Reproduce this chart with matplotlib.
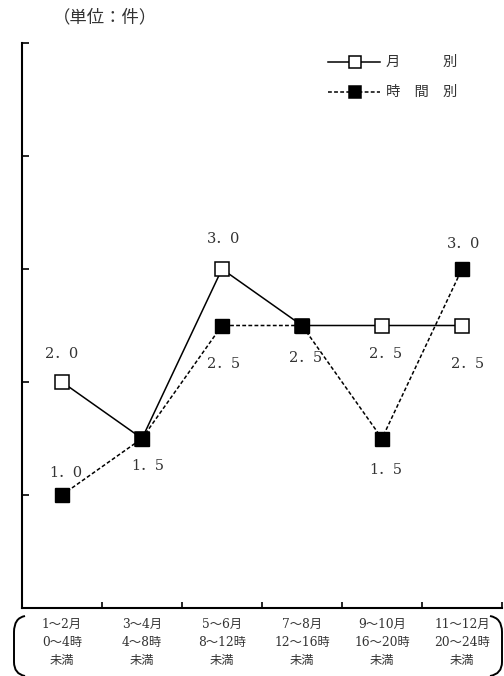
import matplotlib.pyplot as plt
from matplotlib.path import Path
from matplotlib.patches import PathPatch
from matplotlib.lines import Line2D

# データ
categories = ['1～2月\n0～4時\n未満', '3～4月\n4～8時\n未満', '5～6月\n8～12時\n未満',
              '7～8月\n12～16時\n未満', '9～10月\n16～20時\n未満', '11～12月\n20～24時\n未満']
monthly = [2.0, 1.5, 3.0, 2.5, 2.5, 2.5]
hourly = [1.0, 1.5, 2.5, 2.5, 1.5, 3.0]
legend_labels = ['月　　　別', '時　間　別']
unit_text = '（単位：件）'

# ラベルの位置（ピクセル単位のずれ）: (系列, 番号, dx, dy)
label_spec = [('m', 0, 0, 28), ('h', 0, 4, 22), ('h', 1, 6, -28),
              ('m', 2, 2, 30), ('h', 2, 2, -38), ('h', 3, 4, -32),
              ('m', 4, 4, -28), ('h', 4, 4, -31), ('h', 5, 2, 25),
              ('m', 5, 6, -38)]

FONT = ['DejaVu Serif', 'Noto Sans CJK JP']
plt.rcParams['font.family'] = FONT

W, H = 504, 676
fig = plt.figure(figsize=(W / 100, H / 100), dpi=100)
ax = fig.add_axes([22 / W, 1 - 608 / H, 480 / W, 565 / H])

x = [i + 0.5 for i in range(len(categories))]
ax.plot(x, monthly, color='black', lw=1.1, marker='s', ms=9.5,
        mfc='white', mec='black', mew=1.1, zorder=3)
ax.plot(x, hourly, color='black', lw=1.1, ls=(0, (2.5, 1.5)), marker='s',
        ms=9.5, mfc='black', mec='black', zorder=4)

for s, i, dx, dy in label_spec:
    v = monthly[i] if s == 'm' else hourly[i]
    txt = ('%.1f' % v).replace('.', '．')
    ax.annotate(txt, (x[i], v), xytext=(dx * 0.72, dy * 0.72),
                textcoords='offset points', ha='center', va='center',
                fontsize=10.5, color='#333333')

ax.set_xlim(0, 6)
ax.set_ylim(0, 5)
ax.set_yticks(range(0, 6))
ax.set_yticklabels([])
ax.set_xticks(range(1, 7))
ax.set_xticklabels([])
ax.tick_params(axis='y', direction='in', length=5, width=1.2)
ax.tick_params(axis='x', direction='in', length=4, width=1.2)
for sp in ['top', 'right']:
    ax.spines[sp].set_visible(False)
for sp in ['left', 'bottom']:
    ax.spines[sp].set_linewidth(1.5)

# 横軸ラベル
for xi, lab in zip(x, categories):
    ax.annotate(lab, (xi, 0), xycoords=('data', 'axes fraction'),
                xytext=(0, -7), textcoords='offset points',
                ha='center', va='top', fontsize=8.8, linespacing=1.5,
                color='#333333')

# 凡例（手描き）
def px(xp, yp):
    return (xp / W, 1 - yp / H)

leg_y = [62, 92]
leg_style = [dict(ls='-', mfc='white'), dict(ls=(0, (2.5, 1.5)), mfc='black')]
for yy, st, lab in zip(leg_y, leg_style, legend_labels):
    x0, y0 = px(328, yy)
    x1, _ = px(380, yy)
    fig.add_artist(Line2D([x0, x1], [y0, y0], transform=fig.transFigure,
                          color='black', lw=1.1, ls=st['ls']))
    xm, _ = px(355, yy)
    fig.add_artist(Line2D([xm], [y0], transform=fig.transFigure, marker='s',
                          ms=8.5, mfc=st['mfc'], mec='black', mew=1.1, ls='none'))
    fig.text(px(386, 0)[0], y0, lab, ha='left', va='center', fontsize=10.3,
             color='#333333')

fig.text(53 / W, 1 - 18 / H, unit_text, ha='left', va='center', fontsize=12.5,
         color='#333333')

# 括弧
left = Path([px(25, 616), px(14, 618), px(14, 632), px(14, 662), px(14, 674), px(25, 676)],
            [Path.MOVETO, Path.CURVE3, Path.CURVE3, Path.LINETO, Path.CURVE3, Path.CURVE3])
right = Path([px(490, 616), px(502, 618), px(502, 632), px(502, 662), px(502, 674), px(490, 676)],
             [Path.MOVETO, Path.CURVE3, Path.CURVE3, Path.LINETO, Path.CURVE3, Path.CURVE3])
for p in (left, right):
    fig.patches.append(PathPatch(p, transform=fig.transFigure, fill=False,
                                 lw=1.4, edgecolor='black'))

fig.savefig('out.png', dpi=100)
